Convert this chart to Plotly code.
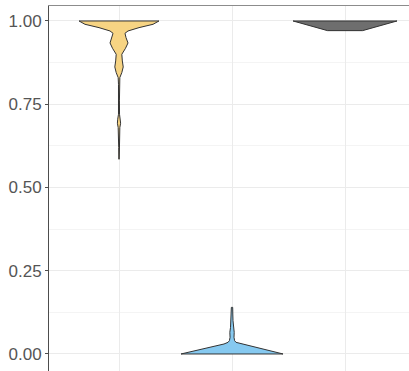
import plotly.graph_objects as go

# Categories (x positions 1..3, labels hidden in reference)
categories = ["A", "B", "C"]
fill_colors = ["#F7D483", "#86C9F0", "#6E6E6E"]

# Density profiles (value level -> relative density)
a_levels = [0.585, 0.62, 0.66, 0.680, 0.693, 0.705, 0.72, 0.76, 0.810, 0.830, 0.845,
            0.862, 0.880, 0.900, 0.918, 0.934, 0.950, 0.963, 0.970, 0.980, 0.990, 1.000]
a_density = [0.004, 0.006, 0.008, 0.016, 0.031, 0.025, 0.010, 0.008, 0.010, 0.016, 0.054,
             0.081, 0.064, 0.054, 0.125, 0.173, 0.135, 0.115, 0.173, 0.385, 0.654, 0.769]

b_levels = [0.000, 0.012, 0.022, 0.030, 0.035, 0.040, 0.050, 0.065, 0.080, 0.100, 0.120, 0.140]
b_density = [0.981, 0.654, 0.385, 0.154, 0.077, 0.050, 0.038, 0.042, 0.029, 0.019, 0.015, 0.013]

c_levels = [0.971, 0.980, 0.987, 0.994, 1.000]
c_density = [0.337, 0.538, 0.712, 0.865, 1.000]

y_ticks = [0.0, 0.25, 0.5, 0.75, 1.0]
y_tick_labels = ["0.00", "0.25", "0.50", "0.75", "1.00"]

profiles = [(a_levels, a_density), (b_levels, b_density), (c_levels, c_density)]
MAX_HALF = 0.46

fig = go.Figure()
for i, (lev, den) in enumerate(profiles):
    pos = i + 1
    xs = [pos + d * MAX_HALF for d in den] + [pos - d * MAX_HALF for d in reversed(den)]
    ys = list(lev) + list(reversed(lev))
    xs.append(xs[0]); ys.append(ys[0])
    fig.add_trace(go.Scatter(
        x=xs, y=ys, mode="lines", fill="toself",
        fillcolor=fill_colors[i],
        line=dict(color="#333333", width=1),
        name=categories[i], hoverinfo="skip", showlegend=False))

fig.update_layout(
    width=409, height=371,
    margin=dict(l=49, r=0, t=6, b=0, autoexpand=False),
    paper_bgcolor="white", plot_bgcolor="white",
    font=dict(family="Liberation Sans, Arial, sans-serif", size=17, color="#555555"),
    showlegend=False,
)
fig.update_xaxes(
    range=[0.3805, 3.566], tickvals=[1, 2, 3], showticklabels=False,
    showgrid=True, gridcolor="#EBEBEB", gridwidth=1, zeroline=False,
    side="top", showline=True, linecolor="#8C8C8C", linewidth=1, ticks="",
    automargin=False,
)
fig.update_yaxes(
    range=[-0.0511, 1.045], tickvals=y_ticks, ticktext=y_tick_labels,
    showgrid=True, gridcolor="#EBEBEB", gridwidth=1, zeroline=False,
    minor=dict(dtick=0.125, tick0=0.125, showgrid=True, gridcolor="#F4F4F4", gridwidth=1),
    showline=True, linecolor="#4D4D4D", linewidth=1,
    ticks="outside", ticklen=3, tickcolor="#4D4D4D", tickwidth=1,
    tickfont=dict(size=17, color="#555555"),
    automargin=False,
)
fig.write_html("out.html", config={"displayModeBar": False},
               post_script="document.body.style.margin='0';document.body.style.overflow='hidden';")
